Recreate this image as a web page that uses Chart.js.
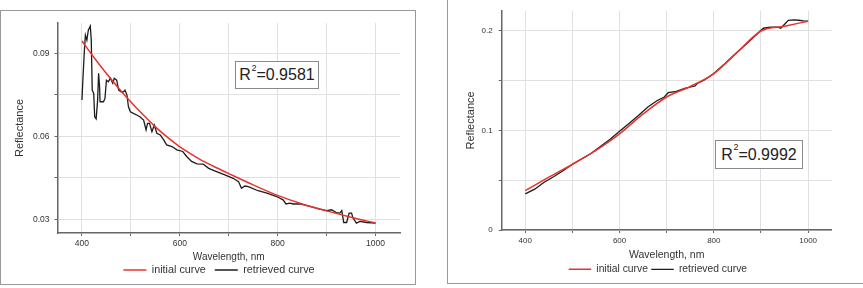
<!DOCTYPE html>
<html><head><meta charset="utf-8">
<script src="https://cdn.jsdelivr.net/npm/chart.js@4.4.1/dist/chart.umd.min.js"></script>
<style>
html,body{margin:0;padding:0;background:#fff;width:863px;height:288px;overflow:hidden;position:relative;font-family:"Liberation Sans",Arial,sans-serif;}
.frame{position:absolute;border:1px solid #9a9a9a;box-sizing:border-box;}
.cv{position:absolute;}
.r2{position:absolute;box-sizing:border-box;border:1px solid #8a8a8a;background:#fff;display:flex;align-items:center;justify-content:center;font-size:16px;line-height:1;color:#222;}
.r2 sup{font-size:9px;vertical-align:baseline;position:relative;top:-7px;margin-left:0.5px;}
</style></head>
<body>
<div class="frame" style="left:0;top:10px;width:416px;height:275px;"></div>
<div class="frame" style="left:447px;top:-5px;width:420px;height:289px;"></div>
<div class="cv" style="left:1px;top:11px;width:413px;height:275px;"><canvas id="c1" width="413" height="275"></canvas></div>
<div class="cv" style="left:448px;top:0;width:414px;height:285px;"><canvas id="c2" width="414" height="285"></canvas></div>
<div class="r2" style="left:235px;top:61px;width:84px;height:28px;">R<sup>2</sup>=0.9581</div>
<div class="r2" style="left:715px;top:140px;width:88px;height:29px;">R<sup>2</sup>=0.9992</div>
<script>
// ---------- data ----------
const seriesNames = ['initial curve', 'retrieved curve'];
const xTitle = 'Wavelength, nm';
const yTitle = 'Reflectance';

// left panel
const leftInitWl = [400,425,450,475,500,525,550,575,600,625,650,675,700,750,800,850,900,950,1000];
const leftInitR  = [0.0945,0.0884,0.0827,0.0774,0.0724,0.0678,0.0634,0.0596,0.0562,0.0534,0.0508,0.0486,0.0465,0.0424,0.0386,0.0355,0.0330,0.0307,0.0286];
const leftRetWl = [400,402,405,407,410,413,417,419,421,424,426,429,432,434,436,437,444,447,450,454,458,463,466,471,475,480,485,488,492,495,499,505,512,519,526,531,534,538,543,548,553,560,567,573,584,594,606,614,624,635,648,659,675,692,709,720,726,733,740,760,778,798,811,817,825,832,846,866,886,900,910,920,927,931,935,941,946,951,954,961,968,982,1000];
const leftRetR  = [0.0731,0.0810,0.0912,0.0966,0.0948,0.0984,0.0999,0.0948,0.0767,0.0755,0.0671,0.0663,0.0731,0.0828,0.0779,0.0725,0.0725,0.0737,0.0803,0.0797,0.0810,0.0792,0.0810,0.0803,0.0767,0.0761,0.0761,0.0767,0.0749,0.0707,0.0689,0.0683,0.0677,0.0670,0.0659,0.0623,0.0647,0.0647,0.0617,0.0641,0.0611,0.0605,0.0587,0.0569,0.0563,0.0551,0.0545,0.0527,0.0509,0.0500,0.0499,0.0484,0.0472,0.0460,0.0448,0.0436,0.0412,0.0420,0.0418,0.0403,0.0394,0.0382,0.0370,0.0355,0.0358,0.0355,0.0355,0.0346,0.0336,0.0331,0.0334,0.0324,0.0322,0.0331,0.0288,0.0288,0.0322,0.0322,0.0304,0.0286,0.0292,0.0288,0.0286];
const leftYTicks = [0.03,0.045,0.06,0.075,0.09];
const leftYTickLabels = ['0.03','','0.06','','0.09'];

// right panel
const rightInitWl = [400,450,500,550,600,650,700,750,800,850,900,950,1000];
const rightInitR  = [0.0396,0.0530,0.0660,0.0800,0.0965,0.1165,0.1335,0.1440,0.1570,0.1785,0.1997,0.2045,0.2096];
const rightRetWl = [400,420,440,460,480,500,520,540,560,580,600,620,640,660,680,695,703,720,740,760,765,780,800,820,840,860,880,900,905,920,935,942,948,958,970,980,990,1000];
const rightRetR  = [0.0363,0.0410,0.0480,0.0535,0.0595,0.0660,0.0715,0.0770,0.0840,0.0910,0.0990,0.1070,0.1150,0.1235,0.1300,0.1335,0.1378,0.1392,0.1425,0.1445,0.1470,0.1505,0.1570,0.1655,0.1745,0.1830,0.1915,0.2005,0.2025,0.2035,0.2035,0.2025,0.2055,0.2105,0.2108,0.2105,0.2098,0.2095];
const rightYTicks = [0,0.05,0.1,0.15,0.2];
const rightYTickLabels = ['0','','0.1','','0.2'];

// shared x ticks
const xTicks = [400,500,600,700,800,900,1000];
const xTickLabels = ['400','','600','','800','','1000'];

// ---------- chart ----------
const FAM = '"Liberation Sans", Arial, Helvetica, sans-serif';
Chart.defaults.font.family = FAM;

const legendShift = {
  id: 'legendShift',
  afterLayout(chart, args, opts) {
    const l = chart.legend;
    if (l && opts && opts.dx) { l.left += opts.dx; l.right += opts.dx; }
  }
};

function pts(xs, ys) { return xs.map((x, i) => ({x: x, y: ys[i]})); }

function makeChart(id, P) {
  return new Chart(document.getElementById(id), {
    type: 'line',
    data: {
      datasets: [
        { label: seriesNames[0], data: pts(P.initWl, P.initR), borderColor: '#e8322e', backgroundColor: '#e8322e',
          borderWidth: 1.5, pointRadius: 0, cubicInterpolationMode: 'monotone', fill: false },
        { label: seriesNames[1], data: pts(P.retWl, P.retR), borderColor: '#1c1c1c', backgroundColor: '#1c1c1c',
          borderWidth: 1.3, pointRadius: 0, tension: 0, fill: false }
      ]
    },
    options: {
      responsive: false, animation: false, devicePixelRatio: 1,
      layout: { padding: P.pad },
      scales: {
        x: {
          type: 'linear', min: 350, max: 1050,
          afterBuildTicks: s => { s.ticks = xTicks.map(v => ({value: v})); },
          afterFit: s => { s.height = P.xh; },
          ticks: { callback: (v, i) => xTickLabels[i], font: {size: P.tickFont}, color: '#333', padding: 3, maxRotation: 0, autoSkip: false },
          grid: { color: '#e0e0e0', lineWidth: 1, drawTicks: true, tickLength: 3, tickColor: '#666', tickWidth: 1 },
          border: { display: true, color: '#666', width: 1.5 },
          title: { display: true, text: xTitle, font: {size: P.xTitleFont}, color: '#333', padding: {top: 0, bottom: P.xtpad} }
        },
        y: {
          type: 'linear', min: P.ymin, max: P.ymax,
          afterBuildTicks: s => { s.ticks = P.yTicks.map(v => ({value: v})); },
          afterFit: s => { s.width = P.yw; },
          ticks: { callback: (v, i) => P.yLabels[i], font: {size: P.tickFont}, color: '#333', padding: P.ytickPad, autoSkip: false },
          grid: { color: '#e0e0e0', lineWidth: 1, drawTicks: true, tickLength: 3, tickColor: '#666', tickWidth: 1 },
          border: { display: true, color: '#666', width: 1.5 },
          title: { display: true, text: yTitle, font: {size: 11}, color: '#333', padding: {top: P.ytpad, bottom: 0} }
        }
      },
      plugins: {
        legend: {
          position: 'bottom',
          labels: { usePointStyle: true, pointStyle: 'line', pointStyleWidth: P.lw, font: {size: P.legFont}, color: '#333', padding: P.legPad }
        },
        legendShift: { dx: P.dx },
        tooltip: { enabled: false }
      }
    },
    plugins: [legendShift]
  });
}

makeChart('c1', {
  initWl: leftInitWl, initR: leftInitR, retWl: leftRetWl, retR: leftRetR,
  ymin: 0.025, ymax: 0.101, yTicks: leftYTicks, yLabels: leftYTickLabels,
  pad: {left: 0, top: 12, right: 14, bottom: 0.6},
  yw: 56.5, xh: 22.6, xtpad: -7.4, ytpad: 12.4, ytickPad: 5,
  tickFont: 8.5, xTitleFont: 10, legFont: 10.8, legPad: 9, lw: 23, dx: 18.5
});

makeChart('c2', {
  initWl: rightInitWl, initR: rightInitR, retWl: rightRetWl, retR: rightRetR,
  ymin: 0, ymax: 0.22, yTicks: rightYTicks, yLabels: rightYTickLabels,
  pad: {left: 0, top: 8, right: 30.3, bottom: 0.55},
  yw: 53.7, xh: 30.75, xtpad: -0.55, ytpad: 16.1, ytickPad: 6,
  tickFont: 8, xTitleFont: 10.5, legFont: 10.3, legPad: 3.4, lw: 22.5, dx: 18
});
</script>
</body></html>
